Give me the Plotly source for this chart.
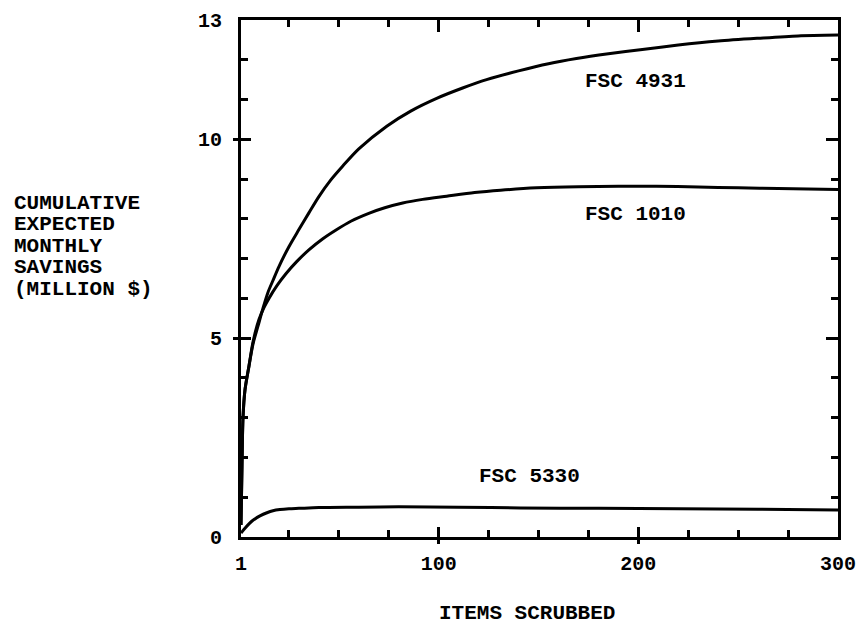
import plotly.graph_objects as go

# ---------------- data ----------------
x_4931 = [1, 1.5, 2, 3, 5, 7, 9.5, 12, 14.5, 17, 20, 25, 30, 35, 40, 46, 52, 60, 74, 86,
          99, 112, 124, 140, 155, 169, 185, 202, 220, 240, 260, 280, 300]
y_4931 = [0.3, 1.8, 3.0, 3.7, 4.3, 4.85, 5.3, 5.75, 6.15, 6.45, 6.8, 7.3, 7.73, 8.15, 8.56,
          8.98, 9.33, 9.76, 10.33, 10.71, 11.03, 11.29, 11.5, 11.72, 11.9, 12.03, 12.15,
          12.26, 12.37, 12.47, 12.54, 12.6, 12.62]

x_1010 = [1, 1.5, 2, 3, 5, 7, 10, 12.5, 15, 19, 23.5, 29, 35, 42, 48.6, 56, 65, 73, 82, 92,
          104, 118, 131, 149, 170, 190, 209, 230, 250, 270, 300]
y_1010 = [0.3, 1.8, 3.0, 3.7, 4.3, 4.9, 5.47, 5.77, 6.0, 6.32, 6.62, 6.93, 7.22, 7.5, 7.72,
          7.94, 8.14, 8.28, 8.4, 8.49, 8.57, 8.66, 8.72, 8.78, 8.81, 8.82, 8.82, 8.8, 8.78,
          8.76, 8.74]

x_5330 = [1, 3, 5, 7, 10.5, 14, 17, 20.5, 25, 30, 40, 60, 80, 110, 141, 180, 220, 260, 300]
y_5330 = [0.1, 0.22, 0.33, 0.42, 0.53, 0.61, 0.66, 0.69, 0.71, 0.72, 0.74, 0.75, 0.76, 0.75,
          0.73, 0.72, 0.71, 0.7, 0.68]

series_labels = ["FSC 4931", "FSC 1010", "FSC 5330"]
label_x = [198.5, 198.5, 145.7]
label_y = [11.46, 8.1, 1.51]

x_ticks = [1, 100, 200, 300]
x_tick_text = ["1", "100", "200", "300"]
x_minor = [25, 50, 75, 125, 150, 175, 225, 250, 275]
y_ticks = [0, 5, 10, 13]
y_tick_text = ["0", "5", "10", "13"]
y_minor = [1, 2, 3, 4, 6, 7, 8, 9, 11, 12]

y_title_lines = ["CUMULATIVE", "EXPECTED", "MONTHLY", "SAVINGS", "(MILLION $)"]
x_title = "ITEMS SCRUBBED"

# ---------------- figure ----------------
FONT = "Liberation Mono"
W, H = 861, 626
L, R, T, B = 241, 838, 20, 537  # plot area in pixels

fig = go.Figure()
line = dict(color="black", width=3, shape="spline", smoothing=0.8)
for xs, ys in [(x_4931, y_4931), (x_1010, y_1010), (x_5330, y_5330)]:
    fig.add_trace(go.Scatter(x=xs, y=ys, mode="lines", line=line,
                             showlegend=False, hoverinfo="skip"))
# dummy traces to anchor overlay axes
for xa, ya in [("x2", "y2"), ("x3", "y3")]:
    fig.add_trace(go.Scatter(x=[None], y=[None], xaxis=xa, yaxis=ya,
                             showlegend=False, hoverinfo="skip"))

tickfont = dict(family=FONT, size=20, color="black", weight="bold")
xr = [1, 300]
yr = [0, 13]

fig.update_layout(
    width=W, height=H,
    margin=dict(l=L, r=W - R, t=T, b=H - B),
    paper_bgcolor="white", plot_bgcolor="white",
    xaxis=dict(range=xr, showgrid=False, zeroline=False, showline=True, linewidth=3,
               linecolor="black", mirror=True, automargin=False,
               tickmode="array", tickvals=x_ticks, ticktext=x_tick_text,
               ticks="inside", ticklen=10, tickwidth=3, tickcolor="black",
               tickfont=tickfont, ticklabelstandoff=6,
               minor=dict(tickmode="array", tickvals=x_minor, ticks="inside",
                          ticklen=7, tickwidth=3, tickcolor="black", showgrid=False)),
    yaxis=dict(range=yr, showgrid=False, zeroline=False, showline=True, linewidth=3,
               linecolor="black", mirror=True, automargin=False,
               tickmode="array", tickvals=y_ticks, ticktext=y_tick_text,
               ticks="inside", ticklen=10, tickwidth=3, tickcolor="black",
               tickfont=tickfont, ticklabelstandoff=12,
               minor=dict(tickmode="array", tickvals=y_minor, ticks="inside",
                          ticklen=7, tickwidth=3, tickcolor="black", showgrid=False)),
    # top & right inside ticks
    xaxis2=dict(range=xr, overlaying="x", side="top", anchor="y2", showgrid=False,
                zeroline=False, showline=False, showticklabels=False, automargin=False,
                tickmode="array", tickvals=[100, 200], ticks="inside", ticklen=12,
                tickwidth=3, tickcolor="black",
                minor=dict(tickmode="array", tickvals=x_minor, ticks="inside",
                           ticklen=7, tickwidth=3, tickcolor="black", showgrid=False)),
    yaxis2=dict(range=yr, overlaying="y", side="right", anchor="x2", showgrid=False,
                zeroline=False, showline=False, showticklabels=False, automargin=False,
                tickmode="array", tickvals=[5, 10], ticks="inside", ticklen=12,
                tickwidth=3, tickcolor="black",
                minor=dict(tickmode="array", tickvals=y_minor, ticks="inside",
                           ticklen=7, tickwidth=3, tickcolor="black", showgrid=False)),
    # outside half of the crossing major ticks (bottom & left)
    xaxis3=dict(range=xr, overlaying="x", side="bottom", anchor="y3", showgrid=False,
                zeroline=False, showline=False, showticklabels=False, automargin=False,
                tickmode="array", tickvals=[100, 200], ticks="outside", ticklen=6,
                tickwidth=3, tickcolor="black"),
    yaxis3=dict(range=yr, overlaying="y", side="left", anchor="x3", showgrid=False,
                zeroline=False, showline=False, showticklabels=False, automargin=False,
                tickmode="array", tickvals=[5, 10], ticks="outside", ticklen=7,
                tickwidth=3, tickcolor="black"),
)

annfont = dict(family=FONT, size=21, color="black", weight="bold")
for txt, lx, ly in zip(series_labels, label_x, label_y):
    fig.add_annotation(x=lx, y=ly, xref="x", yref="y", text=txt, showarrow=False,
                       font=annfont, xanchor="center", yanchor="middle")

pw, ph = R - L, B - T
def px(x):
    return (x - L) / pw
def py(y):
    return (B - y) / ph

y_line_centers = [203, 224.5, 246, 267.5, 289]
for txt, yc in zip(y_title_lines, y_line_centers):
    fig.add_annotation(x=px(12), y=py(yc), xref="paper", yref="paper", text=txt,
                       showarrow=False, font=annfont, xanchor="left", yanchor="middle")

fig.add_annotation(x=px(527), y=py(613), xref="paper", yref="paper", text=x_title,
                   showarrow=False, font=annfont, xanchor="center", yanchor="middle")

fig.write_html("out.html")
